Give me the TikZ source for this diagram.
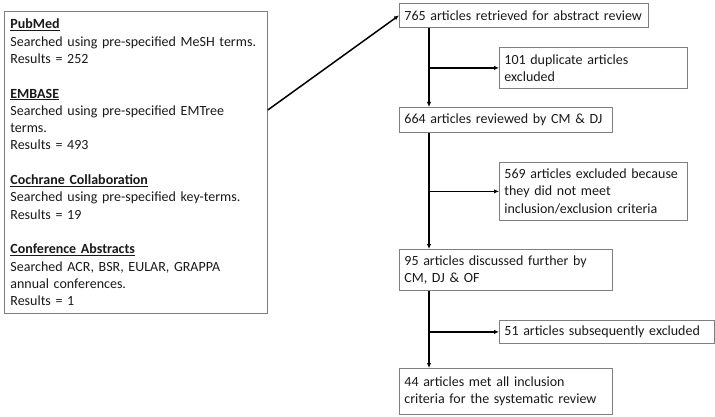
\documentclass[tikz,border=0pt]{standalone}
\usepackage{fontspec}
\setmainfont{Carlito}
\usetikzlibrary{arrows.meta,calc}
\definecolor{boxgray}{HTML}{7F7F7F}
\newcommand{\fs}{\fontsize{14pt}{17.3pt}\selectfont}
\newcommand{\hd}[1]{\underline{\textbf{#1}}}
\begin{document}
\begin{tikzpicture}[x=1pt,y=-1pt,
  box/.style={draw=boxgray, line width=0.8pt, anchor=north west, align=left,
    inner xsep=5pt, inner ysep=1pt, font=\fs, text=black!90},
  arr/.style={line width=1.5pt, -{Latex[length=5pt,width=4.5pt]}},
  ln/.style={line width=1.5pt}]
\useasboundingbox (0,0) rectangle (715,417);
\node[box, inner xsep=6pt, minimum width=263pt, minimum height=302pt, text width=251pt] (src) at (4,11) {%
\hd{PubMed}\\Searched using pre-specified MeSH terms.\\Results = 252\\[17.3pt]
\hd{EMBASE}\\Searched using pre-specified EMTree\\terms.\\Results = 493\\[17.3pt]
\hd{Cochrane Collaboration}\\Searched using pre-specified key-terms.\\Results = 19\\[17.3pt]
\hd{Conference Abstracts}\\Searched ACR, BSR, EULAR, GRAPPA\\annual conferences.\\Results = 1};
\node[box, minimum width=249pt, minimum height=24pt, text width=239pt] (ret) at (399,3) {765 articles retrieved for abstract review};
\node[box, minimum width=188pt, minimum height=41pt, text width=178pt] (dup) at (499,47) {101 duplicate articles\\excluded};
\node[box, minimum width=213pt, minimum height=25pt, text width=203pt] (rev) at (399,107) {664 articles reviewed by CM \& DJ};
\node[box, minimum width=188pt, minimum height=58pt, text width=178pt] (exc) at (499,162) {569 articles excluded because\\they did not meet\\inclusion/exclusion criteria};
\node[box, minimum width=213pt, minimum height=41pt, text width=203pt] (dis) at (399,249) {95 articles discussed further by\\CM, DJ \& OF};
\node[box, minimum width=215pt, minimum height=23pt, text width=205pt] (sub) at (499,320) {51 articles subsequently excluded};
\node[box, minimum width=213pt, minimum height=46pt, text width=203pt] (fin) at (399,368) {44 articles met all inclusion\\criteria for the systematic review};

\coordinate (s1) at ($(src.north east)+(0,99)$);
\draw[ln, -{Latex[length=5pt,width=4.5pt]}] (s1) -- (ret.west);

\coordinate (t1) at ($(ret.south west)+(30,0)$);
\coordinate (t2) at ($(rev.south west)+(30,0)$);
\coordinate (t3) at ($(dis.south west)+(30,0)$);
\draw[arr] (t1) -- (t1 |- rev.north);
\draw[arr] (t2) -- (t2 |- dis.north);
\draw[arr] (t3) -- (t3 |- fin.north);
\coordinate (b1) at (t1 |- dup.west);
\coordinate (b2) at (t2 |- exc.west);
\coordinate (b3) at (t3 |- sub.west);
\draw[arr] (b1) -- (dup.west);
\draw[arr] (b2) -- (exc.west);
\draw[arr] (b3) -- (sub.west);
\end{tikzpicture}
\end{document}
